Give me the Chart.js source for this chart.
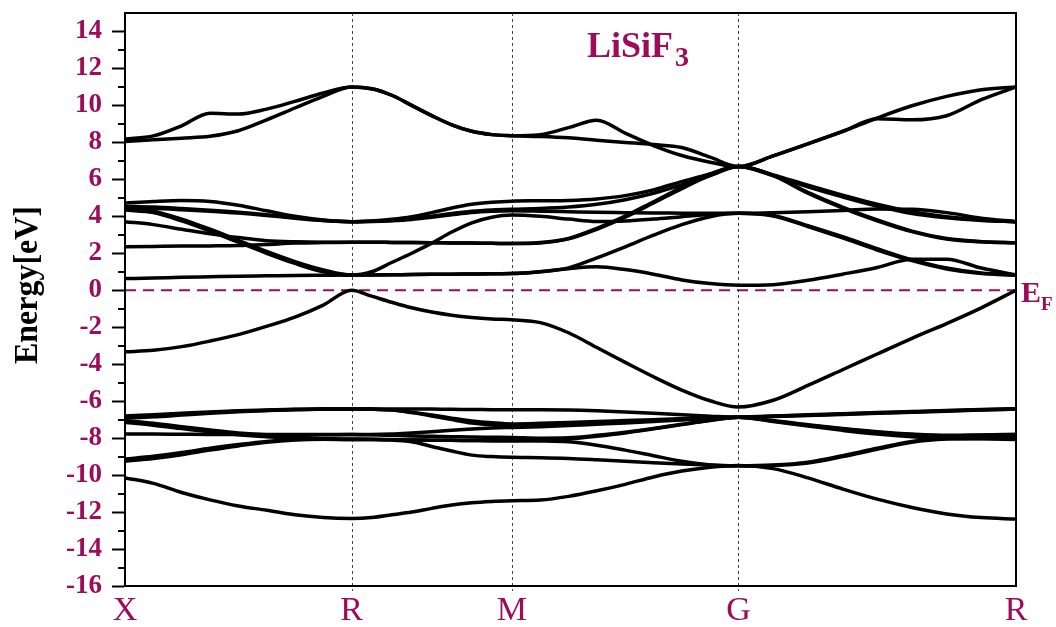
<!DOCTYPE html>
<html>
<head>
<meta charset="utf-8">
<script src="https://cdn.jsdelivr.net/npm/chart.js@4.4.1/dist/chart.umd.min.js"></script>
<style>
  html, body { margin: 0; padding: 0; background: #ffffff; }
  #wrap { width: 1056px; height: 627px; }
</style>
</head>
<body>
<div id="wrap"><canvas id="c" width="1056" height="627"></canvas></div>
<script>
// ---- k-path sampling positions (X-R-M-G-R) ----
const kpath = [0, 0.0884, 0.1768, 0.2652, 0.3536, 0.4419, 0.5303, 0.6187, 0.7071,
  0.7696, 0.8321, 0.8946, 0.9571, 1.0196, 1.0821, 1.1446, 1.2071,
  1.2955, 1.3839, 1.4723, 1.5607, 1.6490, 1.7374, 1.8258, 1.9142,
  2.0225, 2.1307, 2.2390, 2.3472, 2.4555, 2.5637, 2.6720, 2.7802];
const kTickPos = [0, 0.7071, 1.2071, 1.9142, 2.7802];
const kTickLabels = ['X', 'R', 'M', 'G', 'R'];
const energyTicks = [-16, -14, -12, -10, -8, -6, -4, -2, 0, 2, 4, 6, 8, 10, 12, 14];
const fermiEnergy = 0;

// ---- bands (eV) ----
const bandV1 = [-10.15,-10.45,-10.94,-11.34,-11.67,-11.9,-12.15,-12.3,-12.35, -12.3,-12.15,-12.0,-11.8,-11.62,-11.5,-11.43,-11.39, -11.35,-11.15,-10.85,-10.5,-10.1,-9.78,-9.57,-9.48, -9.65,-10.15,-10.75,-11.3,-11.75,-12.1,-12.3,-12.38];
const bandD2 = [-9.25,-9.1,-8.9,-8.65,-8.42,-8.22,-8.1,-8.06,-8.08, -8.08,-8.1,-8.2,-8.45,-8.7,-8.92,-9.0,-9.04, -9.06,-9.1,-9.17,-9.25,-9.33,-9.4,-9.46,-9.5, -9.46,-9.3,-8.95,-8.55,-8.18,-8.02,-7.98,-7.96];
const bandD1 = [-9.13,-8.98,-8.78,-8.55,-8.35,-8.18,-8.08,-8.04,-8.05, -8.06,-8.08,-8.1,-8.11,-8.12,-8.13,-8.14,-8.14, -8.1,-8.05,-7.9,-7.72,-7.5,-7.27,-7.05,-6.87, -7.05,-7.28,-7.48,-7.65,-7.78,-7.85,-7.83,-7.8];
const bandB2 = [-7.15,-7.3,-7.48,-7.66,-7.82,-7.92,-7.98,-8.03,-8.08, -8.08,-8.09,-8.1,-8.11,-8.12,-8.13,-8.14,-8.14, -8.15,-8.2,-8.38,-8.65,-8.95,-9.25,-9.45,-9.5, -9.48,-9.35,-9.0,-8.6,-8.22,-8.05,-8.02,-8.0];
const bandC  = [-7.78,-7.78,-7.79,-7.8,-7.8,-7.8,-7.8,-7.8,-7.8, -7.82,-7.85,-7.88,-7.9,-7.92,-7.94,-7.95,-7.96, -8.0,-7.98,-7.85,-7.68,-7.48,-7.25,-7.03,-6.87, -7.1,-7.35,-7.58,-7.78,-7.92,-8.0,-8.04,-8.08];
const bandB1 = [-7.05,-7.2,-7.38,-7.56,-7.72,-7.82,-7.85,-7.82,-7.8, -7.8,-7.78,-7.72,-7.65,-7.57,-7.5,-7.45,-7.42, -7.38,-7.32,-7.25,-7.18,-7.1,-7.02,-6.94,-6.87, -7.08,-7.3,-7.5,-7.68,-7.82,-7.88,-7.84,-7.8];
const bandA3 = [-6.8,-6.74,-6.66,-6.58,-6.52,-6.48,-6.44,-6.42,-6.42, -6.43,-6.48,-6.62,-6.8,-7.0,-7.18,-7.28,-7.32, -7.3,-7.25,-7.18,-7.11,-7.04,-6.97,-6.91,-6.87, -6.8,-6.74,-6.68,-6.62,-6.56,-6.5,-6.45,-6.41];
const bandA2 = [-6.92,-6.85,-6.75,-6.65,-6.57,-6.51,-6.46,-6.43,-6.42, -6.43,-6.47,-6.6,-6.75,-6.92,-7.07,-7.17,-7.23, -7.2,-7.15,-7.1,-7.05,-7.0,-6.95,-6.9,-6.87, -6.83,-6.78,-6.72,-6.66,-6.6,-6.54,-6.48,-6.43];
const bandA1 = [-6.87,-6.8,-6.7,-6.62,-6.55,-6.5,-6.45,-6.43,-6.42, -6.42,-6.42,-6.42,-6.43,-6.44,-6.45,-6.46,-6.47, -6.47,-6.48,-6.52,-6.58,-6.65,-6.73,-6.81,-6.87, -6.82,-6.76,-6.7,-6.64,-6.58,-6.52,-6.46,-6.42];
const bandVB = [-3.33,-3.25,-3.05,-2.75,-2.4,-1.95,-1.45,-0.8,0, -0.32,-0.65,-0.95,-1.18,-1.35,-1.47,-1.55,-1.6, -1.75,-2.3,-3.1,-3.9,-4.68,-5.4,-5.98,-6.32, -5.95,-5.15,-4.3,-3.45,-2.6,-1.8,-0.95,0];
const bandL0 = [0.63,0.66,0.7,0.73,0.76,0.78,0.8,0.81,0.82, 0.83,0.84,0.85,0.86,0.87,0.88,0.89,0.9, 1.0,1.17,1.27,1.12,0.87,0.56,0.36,0.27, 0.3,0.54,0.87,1.23,1.68,1.68,1.2,0.82];
const bandL3b = [4.34,4.2,3.75,3.2,2.6,2.0,1.45,1.0,0.82, 0.83,0.84,0.85,0.86,0.87,0.88,0.89,0.9, 1.0,1.21,1.75,2.35,2.98,3.55,3.98,4.16, 4.02,3.45,2.83,2.18,1.6,1.15,0.9,0.82];
const bandL3a = [4.43,4.28,3.85,3.3,2.7,2.1,1.55,1.1,0.82, 1.0,1.5,2.0,2.55,3.15,3.65,3.95,4.07, 4.0,3.85,3.72,3.75,3.85,3.98,4.1,4.16, 4.05,3.5,2.9,2.25,1.65,1.2,0.93,0.82];
const bandL1 = [2.35,2.37,2.39,2.4,2.42,2.48,2.55,2.58,2.6, 2.6,2.59,2.58,2.57,2.56,2.55,2.54,2.53, 2.58,2.8,3.35,4.01,4.79,5.57,6.29,6.69, 6.2,5.25,4.45,3.76,3.17,2.77,2.62,2.57];
const bandL2 = [3.71,3.55,3.3,3.05,2.85,2.68,2.62,2.6,2.6, 2.6,2.59,2.58,2.57,2.56,2.55,2.54,2.53, 2.56,2.78,3.3,3.95,4.72,5.5,6.22,6.69, 6.22,5.3,4.5,3.8,3.2,2.8,2.63,2.57];
const bandL6 = [4.47,4.43,4.36,4.28,4.18,4.05,3.9,3.77,3.71, 3.72,3.76,3.83,3.95,4.08,4.2,4.27,4.3, 4.28,4.25,4.22,4.2,4.18,4.17,4.16,4.16, 4.2,4.25,4.32,4.4,4.38,4.2,3.9,3.71];
const bandL5 = [4.55,4.5,4.42,4.33,4.22,4.08,3.92,3.78,3.71, 3.73,3.78,3.87,4.0,4.15,4.27,4.34,4.38, 4.42,4.5,4.65,4.9,5.25,5.7,6.2,6.69, 6.2,5.6,5.05,4.55,4.15,3.92,3.78,3.71];
const bandL4 = [4.72,4.8,4.85,4.8,4.6,4.3,4.0,3.8,3.71, 3.75,3.84,3.98,4.2,4.45,4.65,4.76,4.82, 4.84,4.86,4.94,5.12,5.43,5.88,6.29,6.69, 6.24,5.68,5.15,4.65,4.25,3.98,3.8,3.71];
const bandU2 = [8.05,8.14,8.23,8.33,8.63,9.22,9.86,10.49,11.0, 10.9,10.55,10.0,9.45,8.95,8.6,8.42,8.36, 8.32,8.25,8.12,8.0,7.88,7.72,7.2,6.69, 7.27,7.92,8.59,9.28,9.22,9.44,10.31,11.0];
const bandU1 = [8.18,8.35,8.9,9.58,9.53,9.8,10.22,10.67,11.0, 10.9,10.55,10.0,9.45,8.95,8.6,8.42,8.36, 8.42,8.8,9.2,8.5,7.83,7.29,6.93,6.69, 7.27,7.92,8.59,9.32,9.98,10.49,10.85,11.0];

const bands = [bandV1, bandD2, bandD1, bandB2, bandC, bandB1, bandA3, bandA2, bandA1,
  bandVB, bandL0, bandL3b, bandL3a, bandL1, bandL2, bandL6, bandL5, bandL4, bandU2, bandU1];

const WINE = '#9c0c5a';
const SERIF = '"Liberation Serif", "DejaVu Serif", serif';

const datasets = bands.map(b => ({
  data: b.map((e, i) => ({ x: kpath[i], y: e })),
  borderColor: '#000000',
  borderWidth: 3.5,
  pointRadius: 0,
  fill: false,
  cubicInterpolationMode: 'monotone',
  order: 1
}));
datasets.push({
  data: [{ x: kTickPos[0], y: fermiEnergy }, { x: kTickPos[kTickPos.length - 1], y: fermiEnergy }],
  borderColor: WINE,
  borderWidth: 2,
  borderDash: [11, 7],
  pointRadius: 0,
  fill: false,
  order: 2
});

const decor = {
  id: 'decor',
  beforeDatasetsDraw(chart) {
    const { ctx, chartArea: a, scales: { x } } = chart;
    ctx.save();
    ctx.strokeStyle = '#444444';
    ctx.lineWidth = 1;
    ctx.setLineDash([3, 3]);
    for (let i = 1; i < kTickPos.length - 1; i++) {
      const px = Math.round(x.getPixelForValue(kTickPos[i])) + 0.5;
      ctx.beginPath();
      ctx.moveTo(px, a.top);
      ctx.lineTo(px, a.bottom + 5);
      ctx.stroke();
    }
    ctx.restore();
  },
  afterDraw(chart) {
    const { ctx, chartArea: a, scales: { y } } = chart;
    ctx.save();
    // frame
    ctx.strokeStyle = '#000';
    ctx.lineWidth = 2;
    ctx.strokeRect(a.left, a.top, a.right - a.left, a.bottom - a.top);
    // minor ticks
    for (let i = 0; i < energyTicks.length - 1; i++) {
      const v = (energyTicks[i] + energyTicks[i + 1]) / 2;
      const py = Math.round(y.getPixelForValue(v));
      ctx.beginPath();
      ctx.moveTo(a.left - 7, py);
      ctx.lineTo(a.left, py);
      ctx.stroke();
    }
    // compound title
    ctx.fillStyle = WINE;
    ctx.textBaseline = 'alphabetic';
    ctx.textAlign = 'left';
    ctx.font = 'bold 36px ' + SERIF;
    ctx.fillText('LiSiF', 587, 57);
    const w = ctx.measureText('LiSiF').width;
    ctx.font = 'bold 28px ' + SERIF;
    ctx.fillText('3', 587 + w + 2, 66);
    // Fermi label
    ctx.font = 'bold 30px ' + SERIF;
    ctx.fillText('E', 1021, 302);
    const we = ctx.measureText('E').width;
    ctx.font = 'bold 19px ' + SERIF;
    ctx.fillText('F', 1021 + we, 310);
    // y title
    ctx.fillStyle = '#000';
    ctx.font = 'bold 34px ' + SERIF;
    ctx.translate(37, 285);
    ctx.rotate(-Math.PI / 2);
    ctx.scale(0.94, 1);
    ctx.textAlign = 'center';
    ctx.fillText('Energy[eV]', 0, 0);
    ctx.restore();
  }
};

new Chart(document.getElementById('c'), {
  type: 'line',
  data: { datasets },
  options: {
    responsive: false,
    animation: false,
    devicePixelRatio: 1,
    layout: { padding: { left: 0, right: 40, top: 13, bottom: 0 } },
    plugins: { legend: { display: false }, tooltip: { enabled: false } },
    scales: {
      x: {
        type: 'linear',
        min: kTickPos[0],
        max: kTickPos[kTickPos.length - 1],
        afterBuildTicks: s => { s.ticks = kTickPos.map(v => ({ value: v })); },
        afterFit: s => { s.height = 41; s.paddingLeft = 0; s.paddingRight = 0; },
        ticks: {
          autoSkip: false,
          maxRotation: 0,
          padding: 1,
          color: WINE,
          font: { family: SERIF, size: 34 },
          callback: (v, i) => kTickLabels[i]
        },
        grid: { display: true, drawOnChartArea: false, drawTicks: true, tickLength: 4, tickColor: 'rgba(0,0,0,0)' },
        border: { display: true, color: '#000', width: 2 }
      },
      y: {
        type: 'linear',
        min: -16,
        max: 15,
        afterBuildTicks: s => { s.ticks = energyTicks.map(v => ({ value: v })); },
        afterFit: s => { s.width = 125; s.paddingTop = 0; s.paddingBottom = 0; },
        ticks: {
          autoSkip: false,
          padding: 10,
          color: WINE,
          font: { family: SERIF, size: 27, weight: 'bold' }
        },
        grid: { display: true, drawOnChartArea: false, drawTicks: true, tickLength: 13, tickWidth: 2, tickColor: '#000' },
        border: { display: true, color: '#000', width: 2 }
      }
    }
  },
  plugins: [decor]
});
</script>
</body>
</html>
